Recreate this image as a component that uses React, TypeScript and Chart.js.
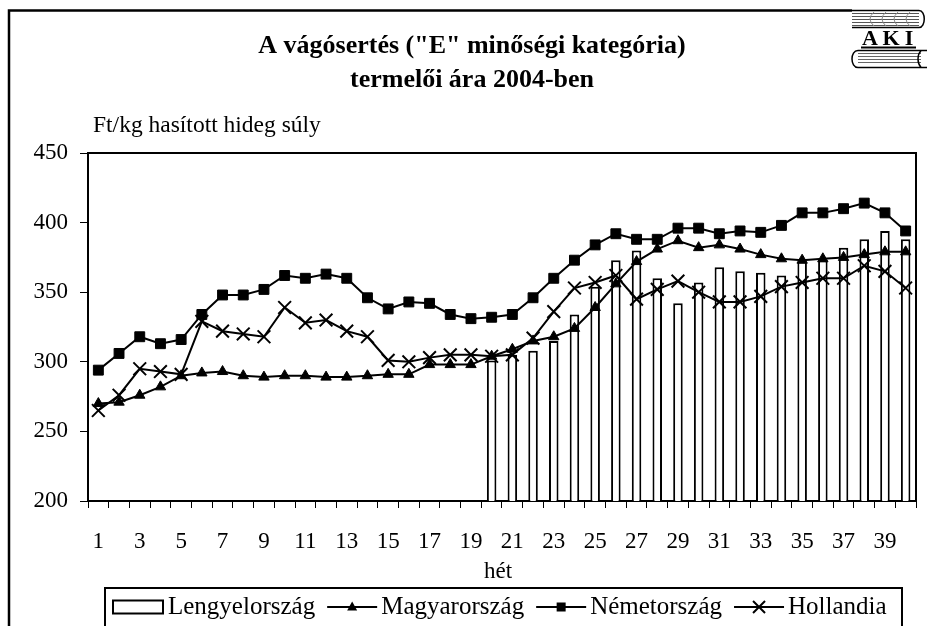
import React, { useEffect, useRef } from 'react';
import { Chart, registerables } from 'chart.js';

Chart.register(...registerables);

const weeks = ['1','2','3','4','5','6','7','8','9','10','11','12','13','14','15','16','17','18','19','20','21','22','23','24','25','26','27','28','29','30','31','32','33','34','35','36','37','38','39','40'];

// Lengyelország: only weeks 20..40 reported
const lengyelStartWeek = 20;
const lengyel = [301,305,308,315,334,354,373,380,360,342,357,368,365,364,362,372,373,382,388,394,388];
const magyar = [270,271,276,282,290,292,293,290,289,290,290,289,289,290,291,291,298,298,298,304,309,315,318,324,339,356,372,381,387,382,384,381,377,374,373,374,375,377,379,379];
const nemet = [294,306,318,313,316,334,348,348,352,362,360,363,360,346,338,343,342,334,331,332,334,346,360,373,384,392,388,388,396,396,392,394,393,398,407,407,410,414,407,394];
const holland = [265,276,295,293,291,329,322,320,318,339,328,330,322,318,301,300,303,305,305,304,305,317,336,353,357,362,345,352,358,350,343,343,347,354,357,360,360,369,365,353];

const yTicks = [200, 250, 300, 350, 400, 450];
const titleLines = ['A vágósertés ("E" minőségi kategória)', 'termelői ára 2004-ben'];
const yUnit = 'Ft/kg hasított hideg súly';
const xTitle = 'hét';
const seriesNames = ['Lengyelország', 'Magyarország', 'Németország', 'Hollandia'];
const logoText = ['A', 'K', 'I'];

const SERIF = '"Liberation Serif", "Times New Roman", serif';

function drawMarker(ctx: CanvasRenderingContext2D, style: string, x: number, y: number) {
  ctx.save();
  ctx.fillStyle = '#000';
  ctx.strokeStyle = '#000';
  ctx.lineWidth = 2;
  if (style === 'triangle') {
    ctx.beginPath();
    ctx.moveTo(x, y - 5.5);
    ctx.lineTo(x + 5, y + 3.5);
    ctx.lineTo(x - 5, y + 3.5);
    ctx.closePath();
    ctx.fill();
  } else if (style === 'rect') {
    ctx.fillRect(x - 4.5, y - 4.5, 9, 9);
  } else {
    ctx.beginPath();
    ctx.moveTo(x - 6, y - 6); ctx.lineTo(x + 6, y + 6);
    ctx.moveTo(x + 6, y - 6); ctx.lineTo(x - 6, y + 6);
    ctx.stroke();
  }
  ctx.restore();
}

const decorPlugin = {
  id: 'decor',
  afterDraw(chart: any) {
    const { ctx, chartArea: ca } = chart;
    ctx.save();
    ctx.strokeStyle = '#000';
    ctx.fillStyle = '#000';

    // plot area top/right border
    ctx.lineWidth = 2;
    ctx.beginPath();
    ctx.moveTo(ca.left, ca.top);
    ctx.lineTo(ca.right, ca.top);
    ctx.lineTo(ca.right, ca.bottom);
    ctx.stroke();

    // outer frame (left + top)
    ctx.lineWidth = 2.5;
    ctx.beginPath();
    ctx.moveTo(9, 640);
    ctx.lineTo(9, 10.5);
    ctx.lineTo(852, 10.5);
    ctx.stroke();

    // title
    ctx.font = 'bold 26px ' + SERIF;
    ctx.textAlign = 'center';
    ctx.textBaseline = 'middle';
    ctx.fillText(titleLines[0], 472, 46);
    ctx.fillText(titleLines[1], 472, 80);

    // y unit label
    ctx.font = '23.5px ' + SERIF;
    ctx.textAlign = 'left';
    ctx.fillText(yUnit, 93, 126);

    // x title
    ctx.font = '23px ' + SERIF;
    ctx.textAlign = 'center';
    ctx.fillText(xTitle, 498, 572);

    // legend box
    ctx.lineWidth = 2;
    ctx.strokeRect(105, 588, 797, 60);
    ctx.font = '25px ' + SERIF;
    ctx.textAlign = 'left';
    const ly = 607;
    let x = 113;
    // bar swatch
    ctx.lineWidth = 2;
    ctx.strokeRect(x, ly - 6.5, 50, 13);
    x += 55;
    ctx.fillText(seriesNames[0], x, ly);
    x += ctx.measureText(seriesNames[0]).width + 12;
    const styles = ['triangle', 'rect', 'crossRot'];
    for (let i = 1; i < 4; i++) {
      ctx.lineWidth = 2;
      ctx.beginPath();
      ctx.moveTo(x, ly);
      ctx.lineTo(x + 50, ly);
      ctx.stroke();
      drawMarker(ctx, styles[i - 1], x + 25, ly);
      x += 54;
      ctx.fillText(seriesNames[i], x, ly);
      x += ctx.measureText(seriesNames[i]).width + 12;
    }

    // AKI logo
    ctx.lineWidth = 1;
    ctx.strokeStyle = '#555';
    for (let yy = 13; yy <= 25; yy += 3) {
      ctx.beginPath();
      ctx.moveTo(852, yy + 0.5);
      ctx.lineTo(919, yy + 0.5);
      ctx.stroke();
    }
    ctx.strokeStyle = '#888';
    for (let k = 0; k < 4; k++) {
      const cx = 866 + k * 12;
      ctx.beginPath();
      ctx.moveTo(cx + 8, 12);
      ctx.quadraticCurveTo(cx, 19, cx + 8, 26);
      ctx.stroke();
    }
    ctx.strokeStyle = '#000';
    ctx.lineWidth = 1.5;
    ctx.beginPath();
    ctx.moveTo(852, 10.5);
    ctx.lineTo(919, 10.5);
    ctx.bezierCurveTo(926, 10.5, 926, 27.5, 919, 27.5);
    ctx.lineTo(852, 27.5);
    ctx.stroke();

    ctx.fillStyle = '#000';
    ctx.font = 'bold 22px ' + SERIF;
    ctx.textAlign = 'center';
    ctx.textBaseline = 'alphabetic';
    logoText.forEach((ch, i) => ctx.fillText(ch, [870, 891, 909][i], 45));
    ctx.lineWidth = 2;
    ctx.beginPath();
    ctx.moveTo(861, 47.5);
    ctx.lineTo(916, 47.5);
    ctx.stroke();

    ctx.lineWidth = 1;
    ctx.strokeStyle = '#666';
    for (let yy = 53; yy <= 64; yy += 3) {
      ctx.beginPath();
      ctx.moveTo(858, yy + 0.5);
      ctx.lineTo(921, yy + 0.5);
      ctx.stroke();
    }
    ctx.strokeStyle = '#000';
    ctx.lineWidth = 1.5;
    ctx.beginPath();
    ctx.moveTo(927, 50.5);
    ctx.lineTo(858, 50.5);
    ctx.bezierCurveTo(850, 50.5, 850, 67.5, 858, 67.5);
    ctx.lineTo(927, 67.5);
    ctx.stroke();
    ctx.beginPath();
    ctx.moveTo(921, 50.5);
    ctx.bezierCurveTo(917, 55, 917, 63, 921, 67.5);
    ctx.stroke();

    ctx.restore();
  },
};

export default function App() {
  const canvasRef = useRef<HTMLCanvasElement | null>(null);

  useEffect(() => {
    const canvas = canvasRef.current;
    if (!canvas) return;
    const lengyelFull: (number | null)[] = weeks.map((_, i) =>
      i + 1 >= lengyelStartWeek ? lengyel[i + 1 - lengyelStartWeek] : null
    );
    const tickFont = { family: SERIF, size: 23 };
    const chart = new Chart(canvas, {
      type: 'bar',
      data: {
        labels: weeks,
        datasets: [
          {
            type: 'bar',
            label: seriesNames[0],
            data: lengyelFull,
            backgroundColor: '#ffffff',
            borderColor: '#000000',
            borderWidth: 2,
            barPercentage: 0.46,
            categoryPercentage: 1,
            order: 10,
          } as any,
          {
            type: 'line',
            label: seriesNames[1],
            data: magyar,
            borderColor: '#000',
            borderWidth: 2,
            pointStyle: 'triangle',
            pointRadius: 6,
            pointBackgroundColor: '#000',
            pointBorderColor: '#000',
            pointBorderWidth: 1,
            tension: 0,
            order: 3,
          } as any,
          {
            type: 'line',
            label: seriesNames[2],
            data: nemet,
            borderColor: '#000',
            borderWidth: 2,
            pointStyle: 'rect',
            pointRadius: 7,
            pointBackgroundColor: '#000',
            pointBorderColor: '#000',
            pointBorderWidth: 1,
            tension: 0,
            order: 2,
          } as any,
          {
            type: 'line',
            label: seriesNames[3],
            data: holland,
            borderColor: '#000',
            borderWidth: 2,
            pointStyle: 'crossRot',
            pointRadius: 9,
            pointBackgroundColor: '#000',
            pointBorderColor: '#000',
            pointBorderWidth: 2,
            tension: 0,
            order: 1,
          } as any,
        ],
      },
      options: {
        responsive: false,
        animation: false,
        devicePixelRatio: 1,
        layout: { padding: { left: 8, right: 9, top: 153, bottom: 65 } },
        plugins: {
          legend: { display: false },
          tooltip: { enabled: false },
          title: { display: false },
        },
        scales: {
          x: {
            offset: true,
            ticks: {
              autoSkip: false,
              maxRotation: 0,
              color: '#000',
              font: tickFont,
              padding: 20,
              callback: (_v: any, i: number) => (i % 2 === 0 ? weeks[i] : ''),
            },
            grid: { offset: true, drawOnChartArea: false, drawTicks: true, tickLength: 7, color: '#000', lineWidth: 1 },
            border: { display: true, color: '#000', width: 2 },
            afterFit: (s: any) => { s.height = 60; },
          },
          y: {
            min: yTicks[0],
            max: yTicks[yTicks.length - 1],
            afterBuildTicks: (s: any) => { s.ticks = yTicks.map((v) => ({ value: v })); },
            ticks: { color: '#000', font: tickFont, padding: 12 },
            grid: { drawOnChartArea: false, drawTicks: true, tickLength: 8, color: '#000', lineWidth: 1 },
            border: { display: true, color: '#000', width: 2 },
            afterFit: (s: any) => { s.width = 80; },
          },
        },
      },
      plugins: [decorPlugin],
    });
    return () => chart.destroy();
  }, []);

  return (
    <div style={{ position: 'fixed', left: 0, top: 0, width: 927, height: 626, background: '#fff' }}>
      <canvas ref={canvasRef} width={927} height={626} style={{ display: 'block' }} />
    </div>
  );
}
